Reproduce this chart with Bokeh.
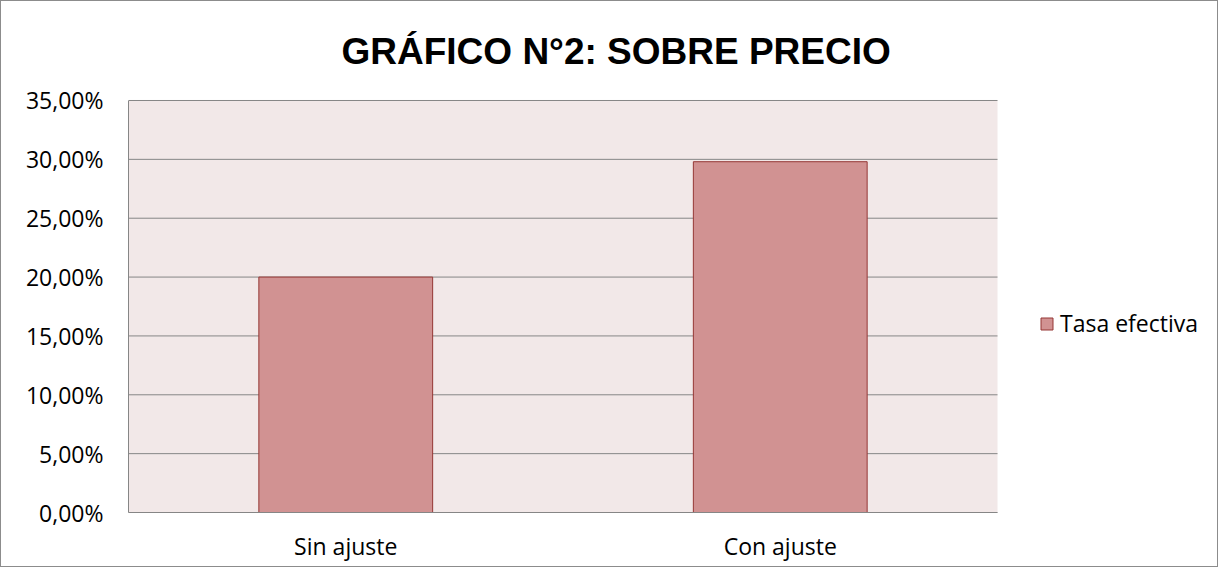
from bokeh.plotting import figure
from bokeh.models import (Range1d, FixedTicker, CustomJSTickFormatter,
                          Legend, LegendItem, ColumnDataSource, Title)
from bokeh.embed import file_html
from bokeh.resources import INLINE

categories = ["Sin ajuste", "Con ajuste"]
tasa_efectiva = [0.20, 0.298]
y_ticks = [0.0, 0.05, 0.10, 0.15, 0.20, 0.25, 0.30, 0.35]
title_text = "GRÁFICO N°2: SOBRE PRECIO"
series_name = "Tasa efectiva"

n = len(categories)
y_max = y_ticks[-1]
x_pos = [i + 0.5 for i in range(n)]
src = ColumnDataSource(dict(x=x_pos, val=tasa_efectiva))

# frame: plot area + legend area to the right (legend would be clipped outside the frame)
x_end = n * (1219 - 128) / (997 - 128)
y_end = y_max * (512 - 97) / (512 - 99)

p = figure(width=1218, height=567, output_backend="svg", toolbar_location=None,
           x_range=Range1d(0, x_end), y_range=Range1d(0, y_end),
           min_border_left=127, min_border_right=0, min_border_top=96, min_border_bottom=56,
           styles={"border": "1px solid #8c8c8c"})
p.title = None
t = Title(text=title_text, align="left", offset=213, text_font="Liberation Sans",
          text_font_style="bold", text_font_size="37px", text_color="#000000", standoff=54)
p.add_layout(t, "above")

p.background_fill_color = "#FFFFFF"
p.border_fill_color = "#FFFFFF"
p.outline_line_color = None

# plot-area background
p.quad(left=[0], right=[n], bottom=[0], top=[y_max], fill_color="#F2E8E8",
       line_color=None, level="image")
# horizontal gridlines limited to the plot area
p.segment(x0=[0] * len(y_ticks), x1=[n] * len(y_ticks), y0=y_ticks, y1=y_ticks,
          line_color="#868686", line_width=1, level="underlay")

r = p.vbar(x="x", top="val", width=0.4, source=src, fill_color="#D19292",
           line_color="#953735", line_width=1)

p.xgrid.grid_line_color = None
p.ygrid.grid_line_color = None

p.yaxis.ticker = FixedTicker(ticks=y_ticks)
p.yaxis.bounds = (0, y_max)
p.yaxis.formatter = CustomJSTickFormatter(code="return (tick*100).toFixed(2).replace('.', ',') + '%';")
p.xaxis.ticker = FixedTicker(ticks=x_pos)
p.xaxis.bounds = (0, n)
p.xaxis.major_label_overrides = {x: c for x, c in zip(x_pos, categories)}
for ax in (p.xaxis, p.yaxis):
    ax.axis_line_color = "#868686"
    ax.axis_line_width = 1
    ax.major_tick_line_color = None
    ax.minor_tick_line_color = None
    ax.major_label_text_font = "Open Sans"
    ax.major_label_text_font_size = "23px"
    ax.major_label_text_color = "#000000"
p.yaxis.major_label_standoff = 19
p.xaxis.major_label_standoff = 11

legend = Legend(items=[LegendItem(label=series_name, renderers=[r])], location=(911, 173),
                glyph_width=15, glyph_height=15, label_standoff=6, padding=0, margin=0,
                border_line_color=None, background_fill_alpha=0,
                label_text_font="Open Sans", label_text_font_size="23px", label_text_color="#000000")
p.add_layout(legend, "center")

open("out.html", "w").write(file_html(p, INLINE))
